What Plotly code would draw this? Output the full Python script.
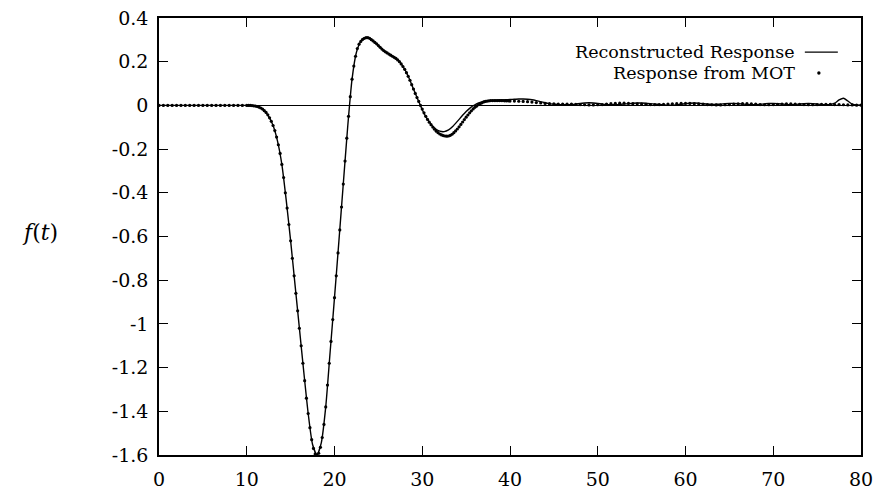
import numpy as np
import plotly.graph_objects as go

# ---------------- data ----------------
# MOT samples: t=0..9.5 step 0.5, t=10..39.8 step 0.2, t=40..80 step 0.5
mot_t = np.round(np.concatenate([np.arange(0, 10, 0.5),
                                 np.arange(10, 40, 0.2),
                                 np.arange(40, 80.01, 0.5)]), 2)

mot_f_start = [0.0, 0.0, 0.0, 0.0, 0.0, 0.0, 0.0, 0.0, 0.0, 0.0,
               0.0, 0.0, 0.0, 0.0, 0.0, 0.0, 0.0, 0.0, 0.0, 0.0]

mot_f_mid = [
    0.0, 0.0, 0.0, -0.001, -0.002,
    -0.003, -0.005, -0.008, -0.012, -0.017,
    -0.024, -0.032, -0.043, -0.057, -0.073,
    -0.092, -0.115, -0.145, -0.18, -0.22,
    -0.27, -0.33, -0.40, -0.47, -0.545,
    -0.62, -0.70, -0.78, -0.86, -0.94,
    -1.02, -1.10, -1.18, -1.26, -1.34,
    -1.41, -1.475, -1.53, -1.57, -1.595,
    -1.60, -1.592, -1.565, -1.52, -1.46,
    -1.38, -1.28, -1.18, -1.08, -0.98,
    -0.88, -0.78, -0.675, -0.57, -0.465,
    -0.36, -0.255, -0.15, -0.05, 0.04,
    0.12, 0.18, 0.225, 0.26, 0.28,
    0.293, 0.302, 0.307, 0.31, 0.31,
    0.307, 0.301, 0.295, 0.288, 0.282,
    0.274, 0.266, 0.258, 0.251, 0.245,
    0.24, 0.235, 0.23, 0.225, 0.22,
    0.215, 0.208, 0.2, 0.19, 0.178,
    0.165, 0.15, 0.133, 0.115, 0.095,
    0.075, 0.055, 0.036, 0.018, 0.0,
    -0.017, -0.034, -0.05, -0.064, -0.077,
    -0.088, -0.099, -0.109, -0.118, -0.125,
    -0.131, -0.135, -0.138, -0.14, -0.141,
    -0.14, -0.137, -0.132, -0.125, -0.117,
    -0.108, -0.098, -0.087, -0.076, -0.065,
    -0.054, -0.044, -0.034, -0.025, -0.016,
    -0.009, -0.003, 0.003, 0.008, 0.012,
    0.016, 0.018, 0.02, 0.021, 0.022,
    0.022, 0.022, 0.022, 0.022, 0.022,
    0.022, 0.022, 0.021, 0.021, 0.021,
]

mot_f_tail = [
    0.02, 0.02, 0.019, 0.018, 0.017, 0.015, 0.013, 0.011, 0.009, 0.008,
    0.007, 0.006, 0.006, 0.006, 0.006, 0.005, 0.004, 0.003, 0.002, 0.002,
    0.003, 0.004, 0.006, 0.008, 0.009, 0.01, 0.01, 0.009, 0.008, 0.007,
    0.006, 0.005, 0.004, 0.004, 0.004, 0.005, 0.006, 0.007, 0.008, 0.009,
    0.009, 0.009, 0.008, 0.007, 0.006, 0.004, 0.003, 0.002, 0.002, 0.003,
    0.004, 0.006, 0.007, 0.008, 0.008, 0.007, 0.006, 0.004, 0.003, 0.003,
    0.004, 0.005, 0.006, 0.007, 0.007, 0.006, 0.005, 0.004, 0.003, 0.003,
    0.004, 0.005, 0.005, 0.005, 0.004, 0.004, 0.003, 0.002, 0.002, 0.001,
    0.001,
]

mot_f = mot_f_start + mot_f_mid + mot_f_tail

# Reconstructed response: t = 0..80 step 0.5
rec_t = np.round(np.arange(0, 80.01, 0.5), 2)
rec_f = [
    0.0, 0.0, 0.0, 0.0, 0.0, 0.0, 0.0, 0.0, 0.0, 0.0, 0.0,
    0.0, 0.0, 0.0, 0.0, 0.0, 0.0, 0.0, 0.0, 0.0, 0.0, 0.0,
    -0.003, -0.01, -0.024, -0.05, -0.092, -0.162, -0.27, -0.435, -0.62, -0.82,
    -1.02, -1.22, -1.41, -1.552, -1.60, -1.543, -1.38, -1.13, -0.88, -0.622,
    -0.36, -0.10, 0.12, 0.243, 0.293, 0.309, 0.307, 0.292, 0.274, 0.255,
    0.24, 0.228, 0.215, 0.195, 0.165, 0.124, 0.075, 0.027, -0.02, -0.058,
    -0.087, -0.107, -0.118, -0.12, -0.112, -0.095, -0.073, -0.05, -0.028, -0.01,
    0.003, 0.012, 0.018, 0.022,
    0.023, 0.024, 0.025, 0.026, 0.027, 0.028, 0.029, 0.029, 0.028, 0.026,
    0.022, 0.017, 0.012, 0.008, 0.005, 0.004, 0.003, 0.003, 0.004, 0.006,
    0.009, 0.011, 0.012, 0.011, 0.009, 0.006, 0.004, 0.003, 0.003, 0.004,
    0.006, 0.008, 0.01, 0.011, 0.011, 0.01, 0.008, 0.006, 0.004, 0.002,
    0.001, 0.001, 0.003, 0.005, 0.008, 0.01, 0.011, 0.01, 0.008, 0.006,
    0.005, 0.005, 0.006, 0.008, 0.009, 0.009, 0.008, 0.006, 0.004, 0.003,
    0.003, 0.005, 0.007, 0.009, 0.009, 0.008, 0.006, 0.004, 0.003, 0.004,
    0.006, 0.008, 0.009, 0.008, 0.006, 0.004, 0.003, 0.004, 0.01, 0.025,
    0.033, 0.02, 0.006, 0.002, 0.001,
]

assert len(mot_t) == len(mot_f), (len(mot_t), len(mot_f))
assert len(rec_t) == len(rec_f), (len(rec_t), len(rec_f))

x_ticks = [0, 10, 20, 30, 40, 50, 60, 70, 80]
y_ticks = [0.4, 0.2, 0, -0.2, -0.4, -0.6, -0.8, -1, -1.2, -1.4, -1.6]
y_tick_labels = ["0.4", "0.2", "0", "-0.2", "-0.4", "-0.6", "-0.8", "-1",
                 "-1.2", "-1.4", "-1.6"]

series_names = ["Reconstructed Response", "Response from MOT"]

# ---------------- figure ----------------
FONT = "DejaVu Serif, Liberation Serif, serif"
fig = go.Figure()

fig.add_trace(go.Scatter(
    x=rec_t, y=rec_f, mode="lines", name=series_names[0],
    line=dict(color="black", width=1.4, shape="spline", smoothing=0.6),
    showlegend=False,
))
fig.add_trace(go.Scatter(
    x=mot_t, y=mot_f, mode="markers", name=series_names[1],
    marker=dict(color="black", size=3.2, symbol="circle", line=dict(width=0)),
    showlegend=False,
))

axis_common = dict(
    showline=True, linecolor="black", linewidth=1.5, mirror="ticks",
    ticks="inside", ticklen=9, tickwidth=1.2, tickcolor="black",
    showgrid=False, automargin=False,
    tickfont=dict(family=FONT, size=19, color="black"),
)

fig.update_xaxes(range=[0, 80], tickvals=x_ticks,
                 ticktext=[str(v) for v in x_ticks],
                 zeroline=False, ticklabelstandoff=6, **axis_common)
fig.update_yaxes(range=[-1.6, 0.4], tickvals=y_ticks, ticktext=y_tick_labels,
                 zeroline=True, zerolinecolor="black", zerolinewidth=1,
                 ticklabelstandoff=5, **axis_common)

# y label (horizontal, like the original)
fig.add_annotation(x=-0.17, y=0.51, xref="paper", yref="paper",
                   text="<i>f</i>(<i>t</i>)", showarrow=False,
                   font=dict(family=FONT, size=22, color="black"),
                   xanchor="center", yanchor="middle")

# gnuplot-style key: text right-aligned, sample to the right
key_y = [0.922, 0.874]
for name, ky in zip(series_names, key_y):
    fig.add_annotation(x=0.909, y=ky, xref="paper", yref="paper", text=name,
                       showarrow=False, xanchor="right", yanchor="middle",
                       font=dict(family=FONT, size=17.5, color="black"))
fig.add_shape(type="line", xref="paper", yref="paper",
              x0=0.920, x1=0.967, y0=key_y[0], y1=key_y[0],
              line=dict(color="black", width=1.4))
fig.add_shape(type="circle", xref="paper", yref="paper",
              xsizemode="pixel", ysizemode="pixel",
              xanchor=0.940, yanchor=key_y[1], x0=-1.7, x1=1.7, y0=-1.7, y1=1.7,
              fillcolor="black", line=dict(color="black", width=0))

fig.update_layout(
    width=877, height=491,
    margin=dict(l=159, r=16, t=18, b=36),
    paper_bgcolor="white", plot_bgcolor="white",
    showlegend=False,
)

fig.write_html("out.html")
